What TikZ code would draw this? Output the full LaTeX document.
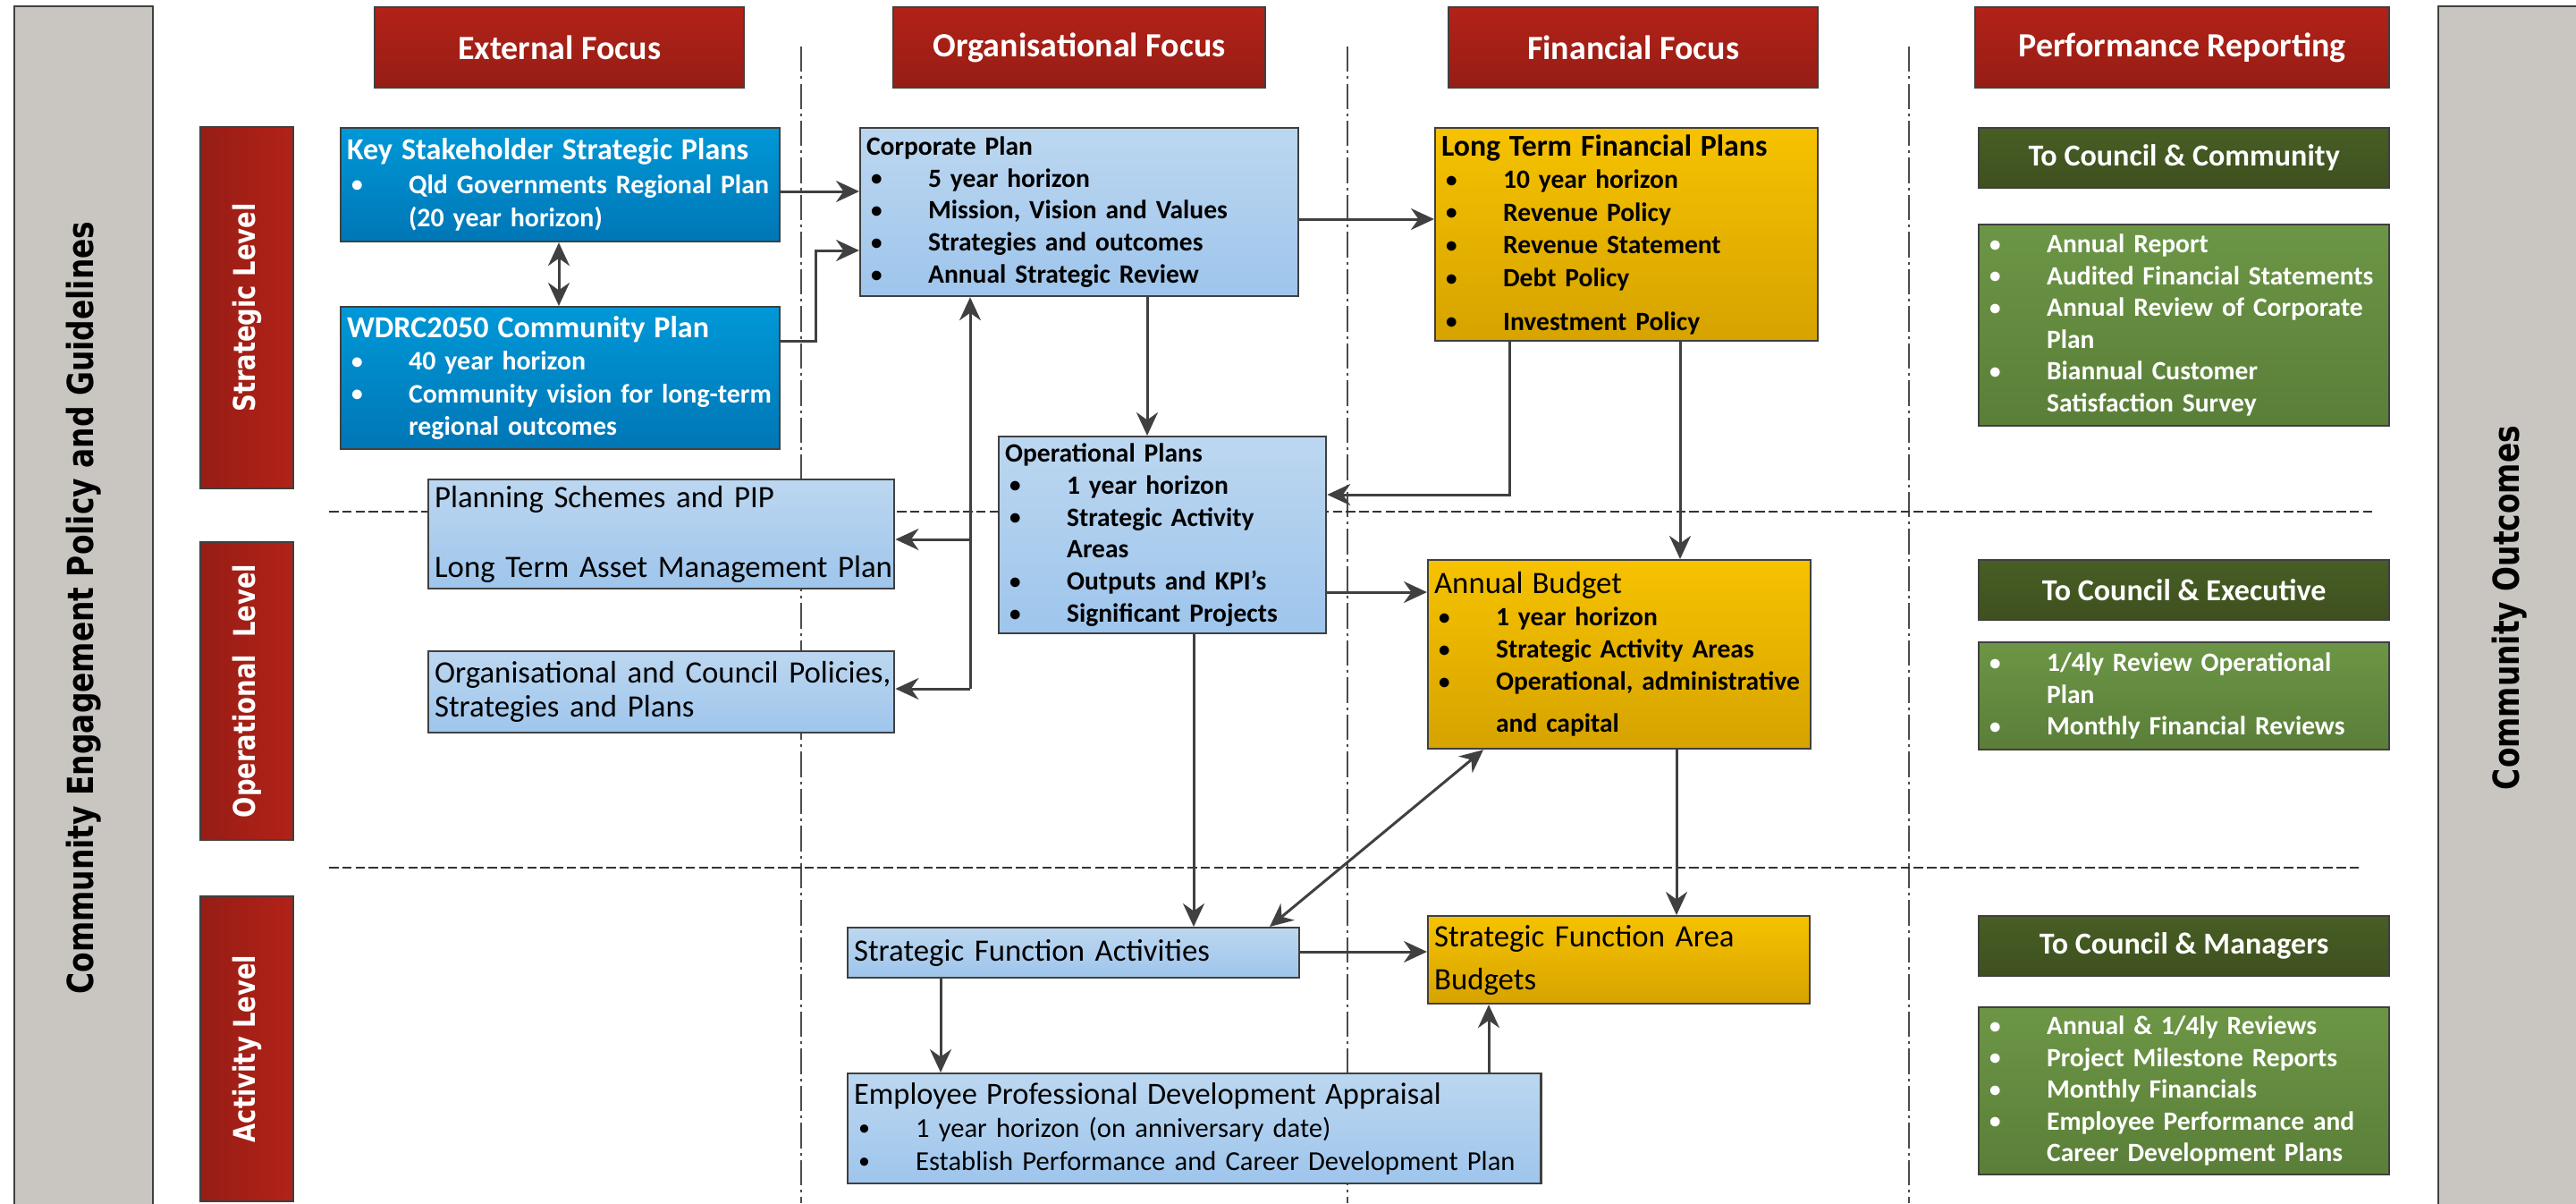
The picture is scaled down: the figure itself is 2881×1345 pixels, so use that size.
\documentclass[tikz,border=0pt]{standalone}
\usepackage{fontspec}
\setmainfont{Carlito}
\newfontfamily\vsans{DejaVu Sans}[FakeStretch=0.82]
\usetikzlibrary{arrows.meta}

\definecolor{edge}{RGB}{64,64,64}
\definecolor{redt}{RGB}{178,34,24}
\definecolor{redb}{RGB}{150,29,21}
\definecolor{sideg}{RGB}{201,197,193}
\definecolor{dbt}{RGB}{0,152,215}
\definecolor{dbb}{RGB}{0,118,182}
\definecolor{lbt}{RGB}{188,215,240}
\definecolor{lbb}{RGB}{158,197,236}
\definecolor{goldt}{RGB}{246,194,0}
\definecolor{goldb}{RGB}{214,163,0}
\definecolor{dgt}{RGB}{72,94,36}
\definecolor{dgb}{RGB}{62,80,31}
\definecolor{mgt}{RGB}{108,150,70}
\definecolor{mgb}{RGB}{90,126,56}

\newcommand{\itm}[1]{\mbox{\hspace*{0.05cm}\makebox[0.64cm][l]{\raisebox{0.1ex}{\scalebox{0.85}{\textbullet}}}#1}}
\newcommand{\cnt}[1]{\mbox{\hspace*{0.69cm}#1}}
\newcommand{\ttl}{\fontsize{9.8}{10.2}\selectfont}

\begin{document}
\begin{tikzpicture}[x=0.01cm, y=-0.01cm,
    >={Stealth[length=2.6mm,width=2.4mm]},
    box/.style={draw=edge, line width=0.6pt, anchor=north west, inner xsep=0.07cm, inner ysep=0pt, align=left},
    hdr/.style={box, top color=redt, bottom color=redb, text=white, align=center, minimum height=0.9cm, font=\bfseries\fontsize{10.8}{12}\selectfont},
    dbl/.style={box, top color=dbt, bottom color=dbb, text=white, font=\bfseries\fontsize{8.5}{10.6}\selectfont},
    lbl/.style={box, top color=lbt, bottom color=lbb, font=\fontsize{8.6}{10.2}\selectfont},
    gld/.style={box, top color=goldt, bottom color=goldb, font=\bfseries\fontsize{8.4}{10.4}\selectfont},
    gnh/.style={box, top color=dgt, bottom color=dgb, text=white, align=center, minimum width=4.59cm, minimum height=0.67cm, font=\bfseries\fontsize{9.7}{11}\selectfont},
    gnl/.style={box, top color=mgt, bottom color=mgb, text=white, text width=4.45cm, font=\bfseries\fontsize{8.4}{10.1}\selectfont},
    lvl/.style={draw=edge, line width=0.6pt, left color=redb, right color=redt, text=white, minimum height=1.04cm, font=\vsans\bfseries\fontsize{9.5}{11}\selectfont},
    side/.style={draw=edge, line width=0.6pt, fill=sideg, minimum width=13.45cm, font=\vsans\bfseries\fontsize{11.4}{13}\selectfont},
    arr/.style={draw=edge, line width=0.85pt, ->},
    vsep/.style={draw=black!70, line width=0.5pt, dash pattern=on 8pt off 1.5pt on 0.8pt off 1.5pt},
    hsep/.style={draw=black!80, line width=0.6pt, dash pattern=on 3pt off 1.2pt}]

  \useasboundingbox (0,0) rectangle (2881,1345);

  \draw[vsep] (896,52) -- (896,1345);
  \draw[vsep] (1507,52) -- (1507,1345);
  \draw[vsep] (2135,52) -- (2135,1345);
  \draw[hsep] (368,572) -- (2654,572);
  \draw[hsep] (368,970) -- (2638,970);

  \node[side, minimum height=1.55cm, rotate=90] (pol) at (93.5,679.5) {Community Engagement Policy and Guidelines};
  \node[side, minimum height=1.6cm, rotate=90] (out) at (2807,679.5) {Community Outcomes};

  \begin{scope}[every node/.style={lvl, rotate=90}]
    \node[minimum width=4.04cm] (lstr) at (276,344) {Strategic Level};
    \node[minimum width=3.33cm] (lop) at (276,772.5) {Operational\ \ Level};
    \node[minimum width=3.41cm] (lact) at (276,1172.5) {Activity Level};
  \end{scope}

  \begin{scope}[every node/.style={hdr}]
    \node[minimum width=4.13cm] (hext) at (418,7) {External Focus};
    \node[minimum width=4.16cm] (horg) at (998,7) {Organisational Focus};
    \node[minimum width=4.13cm] (hfin) at (1619,7) {Financial Focus};
    \node[minimum width=4.63cm] (hperf) at (2208,7) {Performance Reporting};
  \end{scope}

  \node[dbl, text width=4.77cm, minimum height=1.27cm] (ks) at (380,142)
    {{\fontsize{9.7}{10.6}\selectfont Key Stakeholder Strategic Plans}\\
     \itm{Qld Governments Regional Plan}\\ \cnt{(20 year horizon)}};
  \node[dbl, text width=4.77cm, minimum height=1.59cm, font=\bfseries\fontsize{8.5}{10.3}\selectfont] (wdrc) at (380,342)
    {{\fontsize{9.7}{10.3}\selectfont WDRC2050 Community Plan}\\
     \itm{40 year horizon}\\ \itm{Community vision for long-term}\\ \cnt{regional outcomes}};

  \node[lbl, text width=4.76cm, minimum height=1.88cm, font=\bfseries\fontsize{8.4}{10.2}\selectfont] (cp) at (961,142)
    {Corporate Plan\\ \itm{5 year horizon}\\ \itm{Mission, Vision and Values}\\
     \itm{Strategies and outcomes}\\ \itm{Annual Strategic Review}};
  \node[lbl, text width=3.52cm, minimum height=2.2cm, font=\bfseries\fontsize{8.4}{10.2}\selectfont] (op) at (1116,487)
    {Operational Plans\\ \itm{1 year horizon}\\ \itm{Strategic Activity}\\ \cnt{Areas}\\
     \itm{Outputs and KPI’s}\\ \itm{Significant Projects}};
  \node[lbl, text width=5.07cm, minimum height=1.22cm, font=\fontsize{9.9}{11}\selectfont] (plan) at (478,535)
    {\mbox{Planning Schemes and PIP}\\[11.2pt] \mbox{Long Term Asset Management Plan}};
  \node[lbl, text width=5.07cm, minimum height=0.91cm, font=\fontsize{9.9}{10.8}\selectfont] (org) at (478,727)
    {\mbox{Organisational and Council Policies,}\\ Strategies and Plans};
  \node[lbl, text width=4.91cm, minimum height=0.56cm, font=\fontsize{9.9}{11}\selectfont] (sfa) at (947,1036)
    {Strategic Function Activities};
  \node[lbl, text width=7.61cm, minimum height=1.23cm, font=\fontsize{8.7}{10.5}\selectfont] (emp) at (947,1199)
    {{\ttl Employee Professional Development Appraisal}\\
     \itm{1 year horizon (on anniversary date)}\\ \itm{Establish Performance and Career Development Plan}};

  \node[gld, text width=4.14cm, minimum height=2.38cm] (ltfp) at (1604,142)
    {{\fontsize{9.6}{10.4}\selectfont Long Term Financial Plans}\\ \itm{10 year horizon}\\ \itm{Revenue Policy}\\
     \itm{Revenue Statement}\\ \itm{Debt Policy}\\[3.4pt] \itm{Investment Policy}};
  \node[gld, text width=4.14cm, minimum height=2.11cm, font=\bfseries\fontsize{8.4}{10.2}\selectfont] (ab) at (1596,625)
    {{\mdseries\fontsize{9.9}{10.2}\selectfont Annual Budget}\\ \itm{1 year horizon}\\ \itm{Strategic Activity Areas}\\
     \itm{Operational, administrative}\\[3.3pt] \cnt{and capital}};
  \node[gld, text width=4.13cm, minimum height=0.98cm, font=\mdseries\fontsize{9.9}{13.7}\selectfont] (sfab) at (1596,1023)
    {Strategic Function Area\\ Budgets};

  \begin{scope}[every node/.style={gnh}]
    \node (gc1) at (2212,142) {To Council \& Community};
    \node (gc2) at (2212,625) {To Council \& Executive};
    \node (gc3) at (2212,1023) {To Council \& Managers};
  \end{scope}
  \node[gnl, minimum height=2.25cm] (gl1) at (2212,250)
    {\itm{Annual Report}\\ \itm{Audited Financial Statements}\\ \itm{Annual Review of Corporate}\\
     \cnt{Plan}\\ \itm{Biannual Customer}\\ \cnt{Satisfaction Survey}};
  \node[gnl, minimum height=1.2cm] (gl2) at (2212,717)
    {\itm{1/4ly Review Operational}\\ \cnt{Plan}\\ \itm{Monthly Financial Reviews}};
  \node[gnl, minimum height=1.87cm] (gl3) at (2212,1125)
    {\itm{Annual \& 1/4ly Reviews}\\ \itm{Project Milestone Reports}\\ \itm{Monthly Financials}\\
     \itm{Employee Performance and}\\ \cnt{Career Development Plans}};

  \coordinate (yA) at (0,214);  \coordinate (yB) at (0,381);
  \coordinate (yC) at (0,280);  \coordinate (yD) at (0,245);
  \coordinate (yE) at (0,553);  \coordinate (yF) at (0,603);
  \coordinate (yG) at (0,770);  \coordinate (yH) at (0,662);
  \coordinate (yI) at (0,1064);
  \coordinate (xA) at (625,0);  \coordinate (xB) at (912,0);
  \coordinate (xC) at (1283,0); \coordinate (xD) at (1688,0);
  \coordinate (xE) at (1879,0); \coordinate (xF) at (1085,0);
  \coordinate (xG) at (1335,0); \coordinate (xH) at (1875,0);
  \coordinate (xI) at (1052,0); \coordinate (xJ) at (1665,0);
  \coordinate (d1) at (1659,0); \coordinate (d2) at (1420,0);

  \draw[arr] (ks.east |- yA) -- (cp.west |- yA);
  \draw[arr] (wdrc.east |- yB) -| (xB |- yC) -- (cp.west |- yC);
  \draw[arr, <->] (ks.south -| xA) -- (wdrc.north -| xA);
  \draw[arr] (cp.east |- yD) -- (ltfp.west |- yD);
  \draw[arr] (cp.south -| xC) -- (op.north -| xC);
  \draw[arr] (ltfp.south -| xD) |- (op.east |- yE);
  \draw[arr] (ltfp.south -| xE) -- (ab.north -| xE);
  \draw[arr] (yG -| xF) -- (cp.south -| xF);
  \draw[arr] (yF -| xF) -- (plan.east |- yF);
  \draw[arr] (yG -| xF) -- (org.east |- yG);
  \draw[arr] (op.east |- yH) -- (ab.west |- yH);
  \draw[arr] (op.south -| xG) -- (sfa.north -| xG);
  \draw[arr, <->] (ab.south -| d1) -- (sfa.north -| d2);
  \draw[arr] (ab.south -| xH) -- (sfab.north -| xH);
  \draw[arr] (sfa.east |- yI) -- (sfab.west |- yI);
  \draw[arr] (sfa.south -| xI) -- (emp.north -| xI);
  \draw[arr] (emp.north -| xJ) -- (sfab.south -| xJ);

\end{tikzpicture}
\end{document}
